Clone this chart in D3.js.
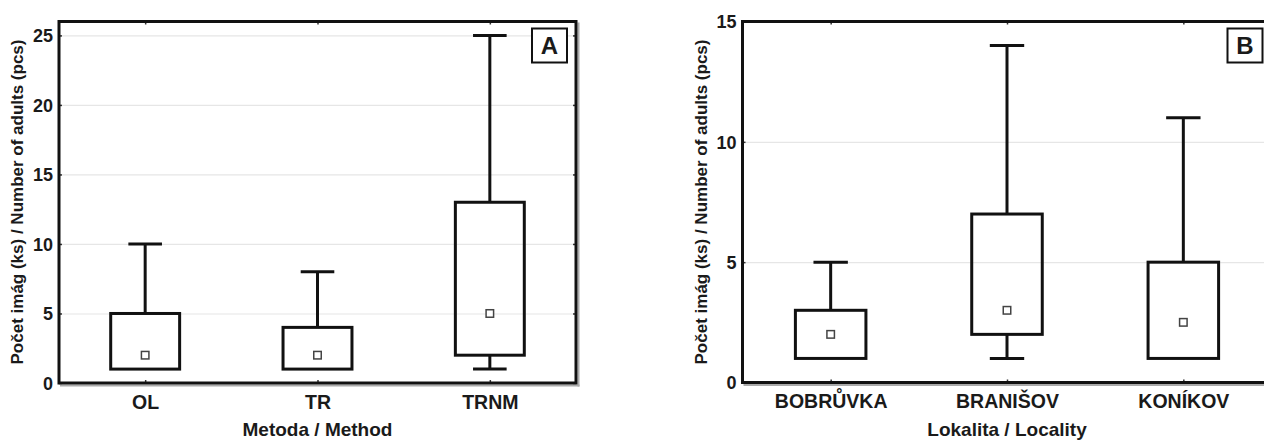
<!DOCTYPE html>
<html>
<head>
<meta charset="utf-8">
<script src="https://cdn.jsdelivr.net/npm/d3@7"></script>
<style>
  html, body { margin: 0; padding: 0; background: #fff; }
  svg { display: block; }
  text { font-family: "Liberation Sans", Arial, sans-serif; font-weight: bold; fill: #1a1a1a; }
</style>
</head>
<body>
<svg id="chart" width="1264" height="440"></svg>
<script>
// ---- Data: panel A (method) ----
const methods = ["OL", "TR", "TRNM"];
const methodMin = [1, 1, 1];
const methodQ1 = [1, 1, 2];
const methodMedian = [2, 2, 5];
const methodQ3 = [5, 4, 13];
const methodMax = [10, 8, 25];
const yTicksA = [0, 5, 10, 15, 20, 25];

// ---- Data: panel B (locality) ----
const localities = ["BOBRŮVKA", "BRANIŠOV", "KONÍKOV"];
const locMin = [1, 1, 1];
const locQ1 = [1, 2, 1];
const locMedian = [2, 3, 2.5];
const locQ3 = [3, 7, 5];
const locMax = [5, 14, 11];
const yTicksB = [0, 5, 10, 15];

const yLabel = "Počet imág (ks) / Number of adults (pcs)";

const svg = d3.select("#chart");

function panel(cfg) {
  const g = svg.append("g");
  const x = d3.scalePoint().domain(cfg.cats).range([cfg.x0, cfg.x1]).padding(0.5);
  const y = d3.scaleLinear().domain(cfg.yDomain).range([cfg.y1, cfg.y0]);
  const step = x.step();
  const boxW = step * 0.4, capW = step * 0.195;

  // gridlines
  const grid = g.append("g").attr("transform", `translate(${cfg.x0},0)`)
    .call(d3.axisLeft(y).tickValues(cfg.yTicks.filter(v => v > 0 && v < cfg.yDomain[1])).tickSize(-(cfg.x1 - cfg.x0)).tickFormat(""));
  grid.select(".domain").remove();
  grid.selectAll("line").attr("stroke", "#e6e6e6").attr("stroke-width", 1.2);

  // inner ticks on all sides
  const tl = g.append("g").attr("transform", `translate(${cfg.x0},0)`)
    .call(d3.axisRight(y).tickValues(cfg.yTicks).tickSize(3).tickFormat(""));
  const tr = g.append("g").attr("transform", `translate(${cfg.x1},0)`)
    .call(d3.axisLeft(y).tickValues(cfg.yTicks).tickSize(3).tickFormat(""));
  const tb = g.append("g").attr("transform", `translate(0,${cfg.y1})`)
    .call(d3.axisTop(x).tickSize(3).tickFormat(""));
  const tt = g.append("g").attr("transform", `translate(0,${cfg.y0})`)
    .call(d3.axisBottom(x).tickSize(3).tickFormat(""));
  [tl, tr, tb, tt].forEach(a => { a.select(".domain").remove(); a.selectAll("line").attr("stroke", "#333").attr("stroke-width", 1.5); });

  // y tick labels
  const ya = g.append("g").attr("transform", `translate(${cfg.x0 - 6},0)`)
    .call(d3.axisLeft(y).tickValues(cfg.yTicks).tickSize(0).tickPadding(0));
  ya.select(".domain").remove();
  ya.selectAll("text").attr("font-size", 18).attr("dy", "0.36em")
    .style("font-family", '"Liberation Sans", Arial, sans-serif').style("font-weight", "bold").attr("fill", "#1a1a1a");

  // x tick labels
  const xa = g.append("g").attr("transform", `translate(0,${cfg.y1})`)
    .call(d3.axisBottom(x).tickSize(0).tickPadding(0));
  xa.select(".domain").remove();
  xa.selectAll("text").attr("font-size", 19.5).attr("y", 25.5).attr("dy", 0)
    .style("font-family", '"Liberation Sans", Arial, sans-serif').style("font-weight", "bold").attr("fill", "#1a1a1a");

  // whiskers and boxes
  const data = cfg.cats.map((c, i) => ({ c, min: cfg.min[i], q1: cfg.q1[i], med: cfg.med[i], q3: cfg.q3[i], max: cfg.max[i] }));
  const bg = g.append("g").attr("stroke", "#111").attr("stroke-width", 3).attr("fill", "none");
  data.forEach(d => {
    const cx = x(d.c);
    bg.append("line").attr("x1", cx).attr("x2", cx).attr("y1", y(d.q3)).attr("y2", y(d.max));
    bg.append("line").attr("x1", cx - capW / 2).attr("x2", cx + capW / 2).attr("y1", y(d.max)).attr("y2", y(d.max));
    if (d.min < d.q1) {
      bg.append("line").attr("x1", cx).attr("x2", cx).attr("y1", y(d.q1)).attr("y2", y(d.min));
      bg.append("line").attr("x1", cx - capW / 2).attr("x2", cx + capW / 2).attr("y1", y(d.min)).attr("y2", y(d.min));
    }
    bg.append("rect").attr("x", cx - boxW / 2).attr("width", boxW)
      .attr("y", y(d.q3)).attr("height", y(d.q1) - y(d.q3));
    g.append("rect").attr("x", cx - 3.75).attr("y", y(d.med) - 3.75).attr("width", 7.5).attr("height", 7.5)
      .attr("fill", "#fff").attr("stroke", "#444").attr("stroke-width", 1.5);
  });

  // frame with light shadow
  g.append("line").attr("x1", cfg.x1 + 2.5).attr("x2", cfg.x1 + 2.5).attr("y1", cfg.y0 + 1).attr("y2", cfg.y1 + 3.5)
    .attr("stroke", "#aaa").attr("stroke-width", 2);
  g.append("line").attr("x1", cfg.x0 + 1).attr("x2", cfg.x1 + 3.5).attr("y1", cfg.y1 + 2.5).attr("y2", cfg.y1 + 2.5)
    .attr("stroke", "#aaa").attr("stroke-width", 2);
  g.append("rect").attr("x", cfg.x0).attr("y", cfg.y0).attr("width", cfg.x1 - cfg.x0).attr("height", cfg.y1 - cfg.y0)
    .attr("fill", "none").attr("stroke", "#111").attr("stroke-width", 3);

  // letter legend
  const lx = cfg.x1 - 9 - 35, ly = cfg.y0 + 7;
  g.append("rect").attr("x", lx).attr("y", ly).attr("width", 35).attr("height", 34)
    .attr("fill", "#fff").attr("stroke", "#111").attr("stroke-width", 2);
  g.append("text").attr("x", lx + 17.5).attr("y", ly + 25.5).attr("text-anchor", "middle")
    .attr("font-size", 24).text(cfg.letter);

  // axis titles
  g.append("text").attr("x", (cfg.x0 + cfg.x1) / 2).attr("y", 436).attr("text-anchor", "middle")
    .attr("font-size", 19).text(cfg.xTitle);
  g.append("text").attr("transform", `translate(${cfg.yLabelX},202) rotate(-90)`)
    .attr("text-anchor", "middle").attr("dy", "0.35em").attr("font-size", 17).text(yLabel);
}

panel({ cats: methods, min: methodMin, q1: methodQ1, med: methodMedian, q3: methodQ3, max: methodMax,
  yTicks: yTicksA, yDomain: [0, 26], x0: 59, x1: 576, y0: 21.5, y1: 383,
  letter: "A", xTitle: "Metoda / Method", yLabelX: 17 });

panel({ cats: localities, min: locMin, q1: locQ1, med: locMedian, q3: locQ3, max: locMax,
  yTicks: yTicksB, yDomain: [0, 15], x0: 742.5, x1: 1271.5, y0: 21.5, y1: 382.5,
  letter: "B", xTitle: "Lokalita / Locality", yLabelX: 701 });
</script>
</body>
</html>
